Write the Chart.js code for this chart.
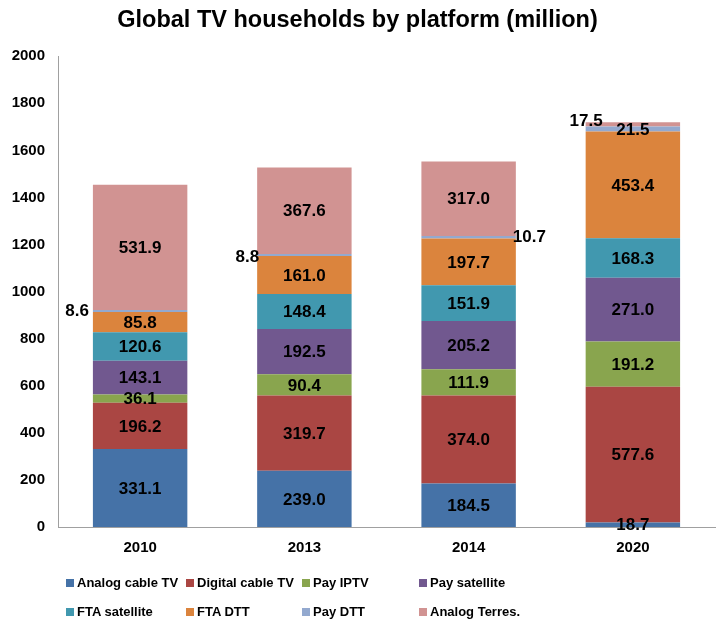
<!DOCTYPE html>
<html>
<head>
<meta charset="utf-8">
<script src="https://cdn.jsdelivr.net/npm/chart.js@4/dist/chart.umd.min.js"></script>
<style>
  body { margin: 0; background: #fff; }
  #wrap { position: relative; width: 728px; height: 630px; }
  #legend { position: absolute; left: 0; top: 0; width: 728px; height: 630px; pointer-events: none;
    font: bold 13px "Liberation Sans", Arial, sans-serif; color: #000; }
  .item { position: absolute; white-space: nowrap; line-height: 16px; }
  .box { display: inline-block; width: 8px; height: 8px; margin-right: 3px; vertical-align: 0px; }
</style>
</head>
<body>
<div id="wrap">
  <canvas id="chart" width="728" height="630"></canvas>
  <div id="legend"></div>
</div>
<script>
const years = ["2010", "2013", "2014", "2020"]
const seriesNames = ["Analog cable TV", "Digital cable TV", "Pay IPTV", "Pay satellite",
  "FTA satellite", "FTA DTT", "Pay DTT", "Analog Terres."]
const analogCable = [331.1, 239.0, 184.5, 18.7]
const digitalCable = [196.2, 319.7, 374.0, 577.6]
const payIptv = [36.1, 90.4, 111.9, 191.2]
const paySatellite = [143.1, 192.5, 205.2, 271.0]
const ftaSatellite = [120.6, 148.4, 151.9, 168.3]
const ftaDtt = [85.8, 161.0, 197.7, 453.4]
const payDtt = [8.6, 8.8, 10.7, 21.5]
const analogTerres = [531.9, 367.6, 317.0, 17.5]
const yTicks = [0, 200, 400, 600, 800, 1000, 1200, 1400, 1600, 1800, 2000]

const colors = ["#4572A7", "#AA4643", "#89A54E", "#71588F", "#4198AF", "#DB843D", "#93A9CF", "#D19392"]
const values = [analogCable, digitalCable, payIptv, paySatellite, ftaSatellite, ftaDtt, payDtt, analogTerres]

// labels that sit outside the bar: [dataset, index] -> how to place
const outsideLabels = {
  "6-0": {side: "left", dx: -4, dy: 0},
  "6-1": {side: "left", dx: 2, dy: 2},
  "6-2": {side: "right", dx: -3, dy: 0},
  "7-3": {side: "left", dx: 17, dy: -3}
}

const labelPlugin = {
  id: "segLabels",
  afterDatasetsDraw(chart) {
    const ctx = chart.ctx
    ctx.save()
    ctx.font = "bold 17px 'Liberation Sans', Arial, sans-serif"
    ctx.fillStyle = "#000"
    ctx.textBaseline = "middle"
    chart.data.datasets.forEach((ds, di) => {
      const meta = chart.getDatasetMeta(di)
      meta.data.forEach((bar, i) => {
        const text = ds.data[i].toFixed(1)
        const cy = (bar.y + bar.base) / 2
        const half = bar.width / 2
        const o = outsideLabels[di + "-" + i]
        if (o && o.side === "left") {
          ctx.textAlign = "right"
          ctx.fillText(text, bar.x - half + o.dx, cy + o.dy)
        } else if (o) {
          ctx.textAlign = "left"
          ctx.fillText(text, bar.x + half + o.dx, cy + o.dy)
        } else {
          ctx.textAlign = "center"
          ctx.fillText(text, bar.x, cy + 1)
        }
      })
    })
    ctx.restore()
  }
}

new Chart(document.getElementById("chart"), {
  type: "bar",
  data: {
    labels: years,
    datasets: seriesNames.map((name, i) => ({
      label: name,
      data: values[i],
      backgroundColor: colors[i],
      barPercentage: 1,
      categoryPercentage: 0.575
    }))
  },
  options: {
    responsive: false,
    animation: false,
    layout: {padding: {left: 0, right: 13, top: 0, bottom: 61}},
    plugins: {
      legend: {display: false},
      tooltip: {enabled: false},
      title: {
        display: true,
        text: "Global TV households by platform (million)",
        color: "#000",
        font: {family: "'Liberation Sans', Arial, sans-serif", size: 23.5, weight: "bold"},
        padding: {top: 6, bottom: 22}
      }
    },
    scales: {
      x: {
        stacked: true,
        grid: {display: false, drawTicks: false},
        border: {color: "#a0a0a0"},
        ticks: {color: "#000", padding: 12, font: {family: "'Liberation Sans', Arial, sans-serif", size: 15, weight: "bold"}}
      },
      y: {
        stacked: true,
        min: 0,
        max: 2000,
        afterBuildTicks(scale) { scale.ticks = yTicks.map(v => ({value: v})) },
        afterFit(scale) { scale.width = 58 },
        grid: {display: false, drawTicks: false},
        border: {color: "#a0a0a0"},
        ticks: {color: "#000", padding: 13, callback: v => String(v),
          font: {family: "'Liberation Sans', Arial, sans-serif", size: 15, weight: "bold"}}
      }
    }
  },
  plugins: [labelPlugin]
})

// legend in two rows of four, in fixed columns
const colX = [66, 186, 302, 419]
const rowY = [575, 604]
const legend = document.getElementById("legend")
seriesNames.forEach((name, i) => {
  const el = document.createElement("div")
  el.className = "item"
  el.style.left = colX[i % 4] + "px"
  el.style.top = rowY[Math.floor(i / 4)] + "px"
  el.innerHTML = `<span class="box" style="background:${colors[i]}"></span>${name}`
  legend.appendChild(el)
})
</script>
</body>
</html>
